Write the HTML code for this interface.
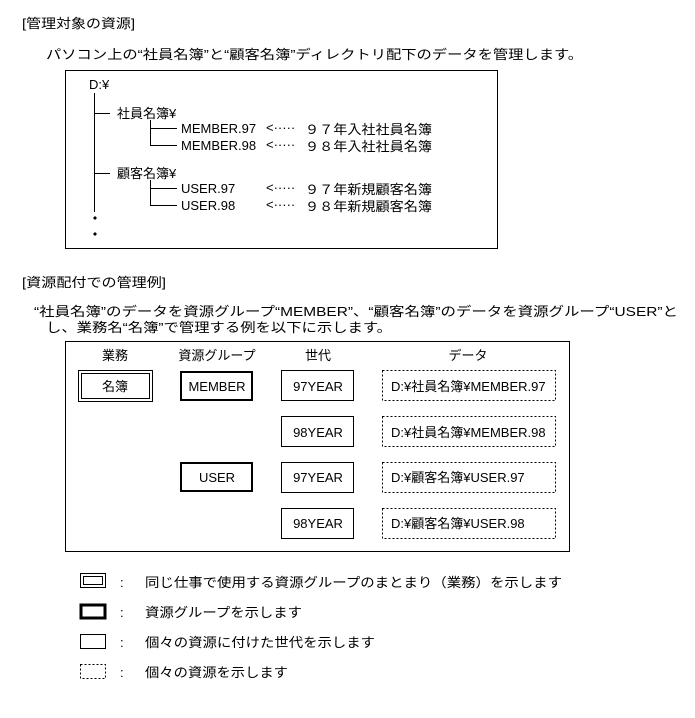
<!DOCTYPE html>
<html><head><meta charset="utf-8"><style>
html,body{margin:0;padding:0;background:#fff}
svg{display:block}
text{font-family:"Liberation Sans","Noto Sans CJK JP",sans-serif;font-size:13px;fill:#000}
</style></head><body>
<svg width="695" height="718" viewBox="0 0 695 718" xmlns="http://www.w3.org/2000/svg">
<g shape-rendering="crispEdges" fill="none" stroke="#000">
<text x="22" y="28" textLength="113" lengthAdjust="spacingAndGlyphs" stroke="none">[管理対象の資源]</text>
<text x="46" y="59" textLength="537" lengthAdjust="spacingAndGlyphs" stroke="none">パソコン上の“社員名簿”と“顧客名簿”ディレクトリ配下のデータを管理します。</text>
<rect x="65.5" y="70.5" width="432" height="178"/>
<text x="89" y="89" stroke="none" font-size="12">D:¥</text>
<line x1="94.5" y1="93" x2="94.5" y2="212"/>
<line x1="94" y1="113.5" x2="110" y2="113.5"/>
<line x1="94" y1="173.5" x2="110" y2="173.5"/>
<text x="117" y="118" stroke="none">社員名簿¥</text>
<text x="117" y="178" stroke="none">顧客名簿¥</text>
<line x1="150.5" y1="120" x2="150.5" y2="145"/>
<line x1="150" y1="128.5" x2="177" y2="128.5"/>
<line x1="150" y1="145.5" x2="177" y2="145.5"/>
<line x1="150.5" y1="180" x2="150.5" y2="205"/>
<line x1="150" y1="188.5" x2="177" y2="188.5"/>
<line x1="150" y1="205.5" x2="177" y2="205.5"/>
<text x="181" y="133" stroke="none" font-size="12">MEMBER.97</text>
<text x="181" y="150" stroke="none" font-size="12">MEMBER.98</text>
<text x="181" y="193" stroke="none" font-size="12">USER.97</text>
<text x="181" y="210" stroke="none" font-size="12">USER.98</text>
<g font-size="11" stroke="none">
<text x="266" y="132">&lt;·····</text><text x="266" y="149">&lt;·····</text>
<text x="266" y="192">&lt;·····</text><text x="266" y="209">&lt;·····</text>
</g>
<text x="305" y="134" textLength="127" lengthAdjust="spacingAndGlyphs" stroke="none">９７年入社社員名簿</text>
<text x="305" y="151" textLength="127" lengthAdjust="spacingAndGlyphs" stroke="none">９８年入社社員名簿</text>
<text x="305" y="194" textLength="127" lengthAdjust="spacingAndGlyphs" stroke="none">９７年新規顧客名簿</text>
<text x="305" y="211" textLength="127" lengthAdjust="spacingAndGlyphs" stroke="none">９８年新規顧客名簿</text>
<circle cx="95" cy="218" r="1.5" fill="#000" stroke="none"/>
<circle cx="95" cy="234" r="1.5" fill="#000" stroke="none"/>

<text x="22" y="287" textLength="144" lengthAdjust="spacingAndGlyphs" stroke="none">[資源配付での管理例]</text>
<text x="34" y="316" textLength="644" lengthAdjust="spacingAndGlyphs" stroke="none">“社員名簿”のデータを資源グループ“MEMBER”、“顧客名簿”のデータを資源グループ“USER”と</text>
<text x="46" y="332" textLength="346" lengthAdjust="spacingAndGlyphs" stroke="none">し、業務名“名簿”で管理する例を以下に示します。</text>

<rect x="65.5" y="341.5" width="504" height="210"/>
<g stroke="none" text-anchor="middle">
<text x="115" y="360">業務</text><text x="217" y="360">資源グループ</text>
<text x="318" y="360">世代</text><text x="468" y="360">データ</text>
<text x="115" y="391">名簿</text>
<text x="217" y="391" font-size="12">MEMBER</text>
<text x="217" y="482" font-size="12">USER</text>
<text x="318" y="391" font-size="12">97YEAR</text>
<text x="318" y="437" font-size="12">98YEAR</text>
<text x="318" y="482" font-size="12">97YEAR</text>
<text x="318" y="528" font-size="12">98YEAR</text>
</g>
<rect x="78.5" y="370.5" width="74" height="31"/>
<rect x="81.5" y="373.5" width="68" height="25"/>
<rect x="181" y="372" width="71" height="28" stroke-width="2"/>
<rect x="181" y="463" width="71" height="28" stroke-width="2"/>
<rect x="281.5" y="370.5" width="72" height="30"/>
<rect x="281.5" y="416.5" width="72" height="30"/>
<rect x="281.5" y="462.5" width="72" height="30"/>
<rect x="281.5" y="508.5" width="72" height="30"/>
<g stroke-dasharray="2,2">
<rect x="382.5" y="370.5" width="173" height="30"/>
<rect x="382.5" y="416.5" width="173" height="30"/>
<rect x="382.5" y="462.5" width="173" height="30"/>
<rect x="382.5" y="508.5" width="173" height="30"/>
</g>
<g stroke="none" font-size="12">
<text x="391" y="391">D:¥社員名簿¥MEMBER.97</text>
<text x="391" y="437">D:¥社員名簿¥MEMBER.98</text>
<text x="391" y="482">D:¥顧客名簿¥USER.97</text>
<text x="391" y="528">D:¥顧客名簿¥USER.98</text>
</g>

<rect x="80.5" y="573.5" width="25" height="14"/>
<rect x="83.5" y="576.5" width="19" height="8"/>
<rect x="81" y="605" width="24" height="13" stroke-width="3"/>
<rect x="80.5" y="634.5" width="25" height="14"/>
<rect x="80.5" y="664.5" width="25" height="14" stroke-dasharray="2,2"/>
<g stroke="none">
<text x="120" y="587">:</text><text x="120" y="617">:</text>
<text x="120" y="647">:</text><text x="120" y="677">:</text>
<text x="145" y="587" textLength="417" lengthAdjust="spacingAndGlyphs">同じ仕事で使用する資源グループのまとまり（業務）を示します</text>
<text x="145" y="617" textLength="157" lengthAdjust="spacingAndGlyphs">資源グループを示します</text>
<text x="145" y="647" textLength="230" lengthAdjust="spacingAndGlyphs">個々の資源に付けた世代を示します</text>
<text x="145" y="677" textLength="143" lengthAdjust="spacingAndGlyphs">個々の資源を示します</text>
</g>
</g>
</svg>
</body></html>
